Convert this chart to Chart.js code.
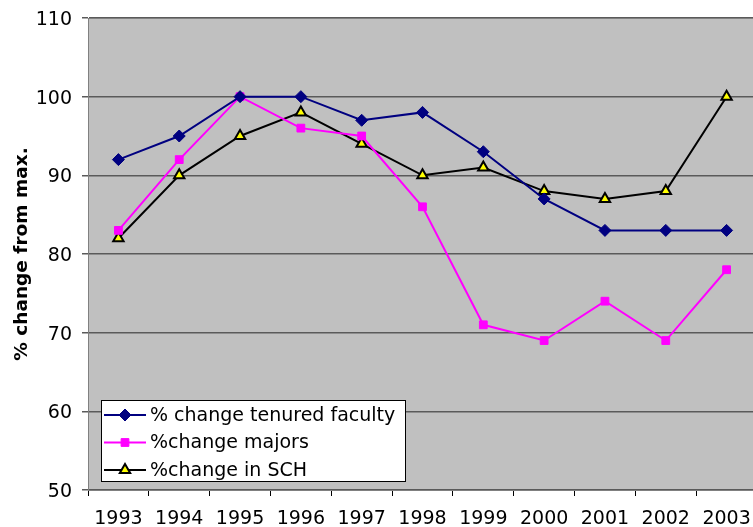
<!DOCTYPE html>
<html>
<head>
<meta charset="utf-8">
<script src="https://cdn.jsdelivr.net/npm/chart.js@4"></script>
<style>
  html, body { margin: 0; padding: 0; background: #fff; overflow: hidden; }
  #wrap { width: 760px; height: 527px; }
</style>
</head>
<body>
<div id="wrap"><canvas id="chart" width="760" height="527"></canvas></div>
<script>
const years = ['1993', '1994', '1995', '1996', '1997', '1998', '1999', '2000', '2001', '2002', '2003'];
const tenured = [92, 95, 100, 100, 97, 98, 93, 87, 83, 83, 83];
const majors = [83, 92, 100, 96, 95, 86, 71, 69, 74, 69, 78];
const sch = [82, 90, 95, 98, 94, 90, 91, 88, 87, 88, 100];
const seriesNames = ['% change tenured faculty', '%change majors', '%change in SCH'];

const font = 'Verdana, "DejaVu Sans", sans-serif';

// gray plot background + frame
const plotBg = {
    id: 'plotBg',
    beforeDraw(chart) {
        const { ctx, chartArea: a } = chart;
        ctx.save();
        ctx.fillStyle = '#c0c0c0';
        ctx.fillRect(a.left, a.top, a.right - a.left, a.bottom - a.top);
        ctx.restore();
    },
    afterDatasetsDraw(chart) {
        const { ctx, chartArea: a } = chart;
        ctx.save();
        ctx.strokeStyle = '#808080';
        ctx.lineWidth = 1;
        ctx.strokeRect(a.left + 0.5, a.top + 0.5, a.right - a.left, a.bottom - a.top);
        ctx.restore();
    }
};

// legend box inside the plot, lower left
const boxLegend = {
    id: 'boxLegend',
    afterDraw(chart) {
        const { ctx } = chart;
        const x = 101, y = 400, w = 304, h = 81;
        ctx.save();
        ctx.fillStyle = '#fff';
        ctx.fillRect(x, y, w, h);
        ctx.strokeStyle = '#000';
        ctx.lineWidth = 1;
        ctx.strokeRect(x + 0.5, y + 0.5, w, h);
        ctx.font = '19px ' + font;
        ctx.textBaseline = 'middle';
        chart.data.datasets.forEach((ds, i) => {
            const cy = y + 15 + i * 27.5;
            ctx.strokeStyle = ds.borderColor;
            ctx.lineWidth = 2;
            ctx.beginPath();
            ctx.moveTo(x + 3, cy);
            ctx.lineTo(x + 45, cy);
            ctx.stroke();
            ctx.fillStyle = ds.pointBackgroundColor;
            ctx.strokeStyle = ds.pointBorderColor;
            ctx.lineWidth = ds.pointBorderWidth || 1;
            Chart.helpers.drawPoint(ctx, {
                pointStyle: ds.pointStyle,
                radius: ds.pointRadius,
                borderWidth: ds.pointBorderWidth || 1,
                rotation: 0
            }, x + 24, cy);
            ctx.fillStyle = '#000';
            ctx.fillText(ds.label, x + 49, cy + 1);
        });
        ctx.restore();
    }
};

new Chart(document.getElementById('chart'), {
    type: 'line',
    data: {
        labels: years,
        datasets: [{
            label: seriesNames[0],
            data: tenured,
            borderColor: '#000080',
            backgroundColor: '#000080',
            pointBackgroundColor: '#000080',
            pointBorderColor: '#000080',
            pointStyle: 'rectRot',
            pointRadius: 6,
            pointBorderWidth: 1,
            borderWidth: 2
        }, {
            label: seriesNames[1],
            data: majors,
            borderColor: '#ff00ff',
            backgroundColor: '#ff00ff',
            pointBackgroundColor: '#ff00ff',
            pointBorderColor: '#ff00ff',
            pointStyle: 'rect',
            pointRadius: 5.5,
            pointBorderWidth: 1,
            borderWidth: 2
        }, {
            label: seriesNames[2],
            data: sch,
            borderColor: '#000000',
            backgroundColor: '#ffff00',
            pointBackgroundColor: '#ffff00',
            pointBorderColor: '#000000',
            pointStyle: 'triangle',
            pointRadius: 6,
            pointBorderWidth: 2,
            borderWidth: 2
        }]
    },
    options: {
        responsive: false,
        animation: false,
        layout: { autoPadding: false, padding: { top: 18, right: 3, left: 0, bottom: 0 } },
        plugins: {
            legend: { display: false },
            tooltip: { enabled: false }
        },
        scales: {
            x: {
                offset: true,
                grid: {
                    offset: true,
                    drawOnChartArea: false,
                    color: '#000',
                    tickLength: 6
                },
                border: { color: '#404040', width: 1 },
                ticks: {
                    color: '#000',
                    font: { family: font, size: 19 },
                    padding: 12,
                    maxRotation: 0,
                    autoSkip: false
                },
                afterFit(scale) {
                    scale.height = 37;
                    scale.paddingLeft = 0;
                    scale.paddingRight = 0;
                }
            },
            y: {
                min: 50,
                max: 110,
                ticks: {
                    stepSize: 10,
                    color: '#000',
                    font: { family: font, size: 19 },
                    padding: 10,
                    labelOffset: 2
                },
                grid: {
                    color: '#5a5a5a',
                    lineWidth: 1.5,
                    tickLength: 6
                },
                border: { color: '#404040', width: 1 },
                title: {
                    display: true,
                    text: '% change from max.',
                    color: '#000',
                    font: { family: font, size: 18.5, weight: 'bold' },
                    padding: { top: 11, bottom: 0 }
                },
                afterFit(scale) {
                    scale.width = 88;
                    scale.paddingTop = 0;
                    scale.paddingBottom = 0;
                }
            }
        }
    },
    plugins: [plotBg, boxLegend]
});
</script>
</body>
</html>
